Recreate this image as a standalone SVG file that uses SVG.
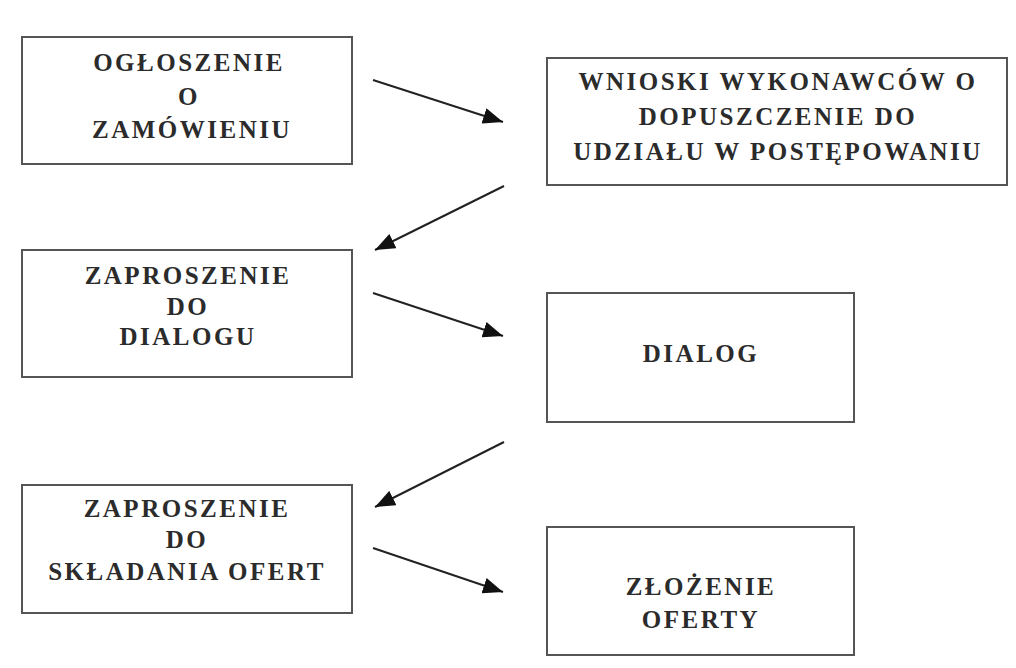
<svg xmlns="http://www.w3.org/2000/svg" width="1016" height="668" viewBox="0 0 1016 668">
<style>
.box{fill:#fff;stroke:#555;stroke-width:2}
.t{font-family:"Liberation Serif","Times New Roman",serif;font-weight:bold;font-size:25px;fill:#2b2b2b;text-anchor:middle;letter-spacing:2.5px}
.c{stroke:#222;stroke-width:2;fill:none;marker-end:url(#ah)}
</style>
<defs>
<marker id="ah" markerUnits="userSpaceOnUse" markerWidth="22" markerHeight="16" refX="20" refY="8" orient="auto">
<path d="M0,0 L20,8 L0,16 Z" fill="#111"/>
</marker>
</defs>
<rect width="1016" height="668" fill="#fff"/>
<g id="n1">
<rect class="box" x="22" y="37" width="330" height="127"/>
<text class="t" x="189" y="71">OGŁOSZENIE</text>
<text class="t" x="189" y="105">O</text>
<text class="t" x="192" y="138">ZAMÓWIENIU</text>
</g>
<g id="n2">
<rect class="box" x="547" y="58" width="460" height="127"/>
<text class="t" x="778" y="90">WNIOSKI WYKONAWCÓW O</text>
<text class="t" x="778" y="125">DOPUSZCZENIE DO</text>
<text class="t" x="778" y="160">UDZIAŁU W POSTĘPOWANIU</text>
</g>
<g id="n3">
<rect class="box" x="22" y="250" width="330" height="127"/>
<text class="t" x="188" y="284">ZAPROSZENIE</text>
<text class="t" x="188" y="315">DO</text>
<text class="t" x="188" y="345">DIALOGU</text>
</g>
<g id="n4">
<rect class="box" x="547" y="293" width="307" height="129"/>
<text class="t" x="701" y="362">DIALOG</text>
</g>
<g id="n5">
<rect class="box" x="22" y="485" width="330" height="128"/>
<text class="t" x="187" y="517">ZAPROSZENIE</text>
<text class="t" x="187" y="548">DO</text>
<text class="t" x="187" y="580">SKŁADANIA OFERT</text>
</g>
<g id="n6">
<rect class="box" x="547" y="527" width="307" height="128"/>
<text class="t" x="701" y="595">ZŁOŻENIE</text>
<text class="t" x="701" y="628">OFERTY</text>
</g>
<g id="connectors">
<line class="c" x1="373" y1="80" x2="503" y2="122"/>
<line class="c" x1="504" y1="186" x2="375" y2="250"/>
<line class="c" x1="373" y1="293" x2="503" y2="336"/>
<line class="c" x1="504" y1="442" x2="375" y2="507"/>
<line class="c" x1="373" y1="548" x2="503" y2="592"/>
</g>
</svg>
